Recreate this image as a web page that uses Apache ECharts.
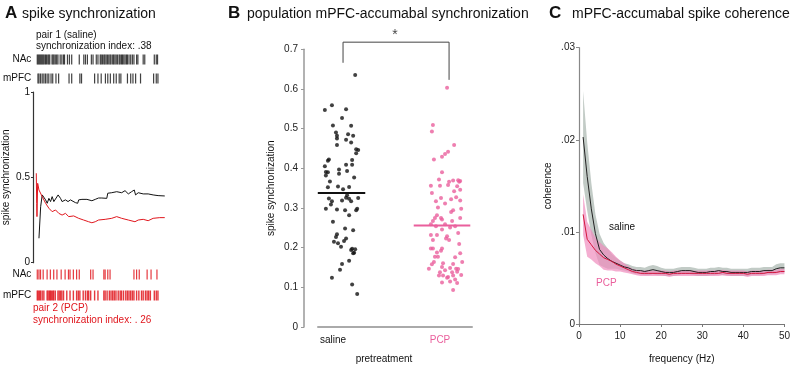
<!DOCTYPE html>
<html><head><meta charset="utf-8">
<script src="https://cdn.jsdelivr.net/npm/echarts@6/dist/echarts.min.js"></script>
<style>html,body{margin:0;padding:0;background:#fff}#c{width:793px;height:369px}</style>
</head><body><div id="c"></div>
<script>
// ---------- Panel A: example pairs ----------
var pair1NAc = [3,4,5,6,7,8,9,10,11.3,12.3,13.7,14.7,15.7,18,19,20,21.3,22.7,24,26.3,28,29.7,30.7,33.7,35.7,38,45.7,50.3,52,54,58,59.7,63,64.7,67,68,69.3,70.7,71.7,73,74.3,75.7,77,78,79.7,80.7,82,83.3,84.7,86.3,87.3,88.7,89.7,91,92.3,93.7,94.7,96.3,98,99.7,101.3,104,105.3,110.7,112.3,122,124,125.3];
var pair1mPFC = [3.7,4.7,6.3,8,9.7,11.3,13,14.7,17,18.7,22,24.7,35.3,38,46.3,48,61.3,64.7,68,72.3,74.7,77.3,80.7,83.3,86.3,88,94.7,98,100.3,103,108,121.3,124,125.7];
var pair2NAc = [3,4.7,6.3,9,13,16.3,19.7,23,27.3,31.3,34.7,36.3,39.7,43,45.7,57.3,59.7,70.7,72,74.7,77,101.3,104,106.7,114.7,118.7,124.7];
var pair2mPFC = [3,4,5.3,6.3,8,9.7,13,14,15.3,16.3,17.3,18.7,19.7,21.3,24,25.3,26.7,28,29.7,33,36.3,39.7,43,44.7,46.3,49.7,52,54,55.3,57.3,61.3,64.7,70.7,72,74,76.3,78,79.7,81.3,83,85.3,87.3,88.7,90.7,93,94.7,96.3,98,99.7,101.3,104,106.3,109,110.7,113,114.7,116.3,118,122,124,125.7];
var pair1Time = [6,7.7,9.3,11,12.7,14.3,16,17.7,19.3,21,22.7,25.3,27.7,29.3,32.7,35.3,37.7,39.3,42.7,45,46,49.3,54.3,59.3,62.7,66,69.3,74.3,75.3,79.3,84.3,89.3,92.7,96,99.3,102,103.3,106,111,116,121,122.7,126,132.7];
var pair1Sync = [0.143,0.328,0.397,0.407,0.368,0.348,0.377,0.358,0.387,0.358,0.358,0.397,0.377,0.358,0.368,0.358,0.368,0.358,0.352,0.348,0.368,0.371,0.371,0.363,0.371,0.379,0.379,0.377,0.407,0.41,0.416,0.41,0.422,0.403,0.416,0.426,0.397,0.41,0.403,0.403,0.397,0.387,0.393,0.391];
var pair2Time = [3.3,3.7,4,4.7,6,7.7,9.3,12.7,16,19.3,22.7,26,29.3,32.7,36,41,46,51,56,59.3,62.7,66,72.7,79.3,84.3,89.3,96,102.7,106,111,116,121,127.7,132.7];
var pair2Sync = [0.524,0.348,0.27,0.465,0.426,0.426,0.387,0.348,0.319,0.299,0.309,0.289,0.279,0.289,0.27,0.274,0.26,0.25,0.24,0.234,0.24,0.25,0.254,0.26,0.27,0.26,0.25,0.24,0.25,0.254,0.246,0.26,0.264,0.264];

// ---------- Panel B: population ----------
var groups = ['saline', 'PCP'];
var salineValues = [0.635,0.547,0.559,0.549,0.527,0.508,0.507,0.49,0.482,0.475,0.486,0.482,0.472,0.459,0.465,0.448,0.446,0.438,0.422,0.419,0.421,0.405,0.409,0.409,0.397,0.391,0.39,0.393,0.382,0.386,0.377,0.367,0.352,0.354,0.347,0.353,0.324,0.317,0.309,0.298,0.296,0.319,0.326,0.332,0.323,0.317,0.294,0.282,0.294,0.298,0.325,0.265,0.234,0.227,0.215,0.211,0.248,0.244,0.223,0.217,0.202,0.197,0.196,0.194,0.187,0.186,0.159,0.144,0.167,0.124,0.107,0.083];
var salineJitter = [0.14,-0.16,-0.09,0.05,0.01,-0.08,0.10,-0.05,-0.04,-0.04,0.07,0.12,0.05,-0.04,0.10,0.15,0.17,0.15,-0.12,-0.13,0.11,-0.16,0.05,0.11,-0.02,-0.15,-0.13,0.06,-0.15,-0.02,0.13,-0.11,-0.13,-0.03,0.02,0.08,-0.12,-0.09,-0.10,-0.15,-0.04,0.01,0.05,0.06,0.08,0.10,0.04,0.08,0.15,0.16,0.17,-0.08,-0.04,-0.05,-0.07,-0.03,0.04,0.12,0.05,0.03,0.00,0.11,0.14,0.10,0.13,0.12,0.01,-0.01,0.08,-0.09,0.11,0.16];
var pcpValues = [0.603,0.509,0.493,0.459,0.442,0.436,0.429,0.422,0.39,0.372,0.369,0.37,0.368,0.366,0.366,0.356,0.356,0.358,0.355,0.338,0.342,0.346,0.325,0.322,0.327,0.319,0.317,0.311,0.301,0.298,0.294,0.29,0.282,0.275,0.275,0.275,0.267,0.271,0.267,0.259,0.259,0.254,0.251,0.254,0.246,0.232,0.232,0.237,0.229,0.219,0.223,0.219,0.209,0.198,0.198,0.198,0.188,0.192,0.186,0.177,0.177,0.176,0.158,0.164,0.164,0.161,0.159,0.147,0.151,0.149,0.147,0.146,0.138,0.143,0.138,0.139,0.13,0.13,0.126,0.13,0.131,0.124,0.12,0.112,0.115,0.111,0.093];
var pcpJitter = [0.05,-0.09,-0.10,0.12,0.06,0.03,0.00,-0.08,0.00,-0.03,0.11,0.16,0.18,0.17,0.07,-0.11,-0.02,0.06,0.15,-0.10,0.12,0.18,-0.01,0.09,0.14,0.18,-0.06,0.03,-0.04,0.19,0.11,0.09,-0.05,-0.07,-0.01,0.18,-0.09,0.00,0.10,-0.11,0.03,-0.06,0.08,0.13,0.00,-0.11,-0.05,0.16,0.05,-0.09,0.04,0.07,0.17,-0.11,-0.09,0.00,-0.05,-0.01,0.18,-0.04,-0.07,0.13,-0.10,-0.08,0.20,0.01,0.11,-0.13,0.00,0.08,0.14,0.16,-0.02,0.03,0.10,0.15,-0.03,0.01,0.06,0.11,0.19,0.05,0.13,0.00,0.08,0.15,0.11];
var groupMeans = [0.338, 0.256];

// ---------- Panel C: coherence ----------
var freq = [1,2,3,4,5,6,7,8,9,10,11,12,13,14,15,16,17,18,19,20,21,22,23,24,25,26,27,28,29,30,31,32,33,34,35,36,37,38,39,40,41,42,43,44,45,46,47,48,49,50];
var salineCoh = [.0203,.0160,.0125,.0098,.0081,.0075,.0071,.0068,.0066,.0064,.0062,.0061,.0059,.0058,.0058,.0057,.0058,.0059,.0058,.0057,.0056,.0056,.0056,.0057,.0058,.0058,.0058,.0057,.0056,.0056,.0056,.0057,.0057,.0058,.0057,.0057,.0056,.0056,.0056,.0056,.0056,.0057,.0057,.0057,.0058,.0058,.0058,.0060,.0061,.0061];
var salineSem = [.0050,.0037,.0028,.0021,.0017,.0013,.0011,.0008,.0006,.0005,.0004,.0004,.0004,.0004,.0004,.0004,.0005,.0005,.0005,.0004,.0004,.0004,.0004,.0004,.0004,.0004,.0004,.0004,.0004,.0004,.0004,.0004,.0004,.0004,.0004,.0004,.0004,.0004,.0004,.0004,.0004,.0004,.0004,.0004,.0004,.0004,.0004,.0005,.0005,.0005];
var pcpCoh = [.0119,.0092,.0086,.0080,.0076,.0072,.0070,.0068,.0065,.0063,.0061,.0059,.0057,.0056,.0055,.0055,.0055,.0055,.0055,.0055,.0055,.0054,.0055,.0055,.0055,.0055,.0055,.0055,.0055,.0055,.0055,.0055,.0055,.0055,.0056,.0055,.0055,.0055,.0055,.0055,.0054,.0055,.0055,.0055,.0055,.0056,.0056,.0056,.0057,.0057];
var pcpSem = [.0022,.0019,.0016,.0014,.0013,.0013,.0012,.0010,.0008,.0006,.0005,.0004,.0003,.0003,.0003,.0003,.0003,.0003,.0003,.0003,.0003,.0003,.0003,.0003,.0003,.0003,.0003,.0003,.0003,.0003,.0003,.0003,.0003,.0003,.0003,.0003,.0003,.0003,.0003,.0003,.0003,.0003,.0003,.0003,.0003,.0003,.0003,.0003,.0003,.0003];

var FONT = 'Arial, "Liberation Sans", sans-serif';
var PINK = '#ea5f9c', RED = '#e0161d';

function zip(a, b) { return a.map(function (v, i) { return [v, b[i]]; }); }
function raster(times, row) { return times.map(function (t) { return [t, row]; }); }

// band polygon (mean ± sem) drawn through the axis scales
function bandSeries(mean, sem, fill, opacity) {
  return {
    type: 'custom', xAxisIndex: 4, yAxisIndex: 4, silent: true,
    data: freq.map(function (f, i) { return [f, mean[i] - sem[i], mean[i] + sem[i]]; }),
    renderItem: function (params, api) {
      if (params.dataIndex !== 0) return null;
      var upper = [], lower = [];
      for (var i = 0; i < freq.length; i++) {
        upper.push(api.coord([freq[i], mean[i] + sem[i]]));
        lower.unshift(api.coord([freq[i], mean[i] - sem[i]]));
      }
      return { type: 'polygon', shape: { points: upper.concat(lower) }, style: { fill: fill, opacity: opacity } };
    }
  };
}

var chart = echarts.init(document.getElementById('c'), null, { renderer: 'canvas' });

var hiddenX = function (g) { return { gridIndex: g, type: 'value', min: 0, max: 140, show: false }; };
var rasterY = function (g) {
  return { gridIndex: g, type: 'category', data: ['NAc', 'mPFC'], inverse: true,
    axisLine: { show: false }, axisTick: { show: false }, splitLine: { show: false },
    axisLabel: { margin: 3, fontSize: 10, color: '#111', fontFamily: FONT } };
};

var option = {
  animation: false,
  textStyle: { fontFamily: FONT },
  grid: [
    { left: 32, top: 92, width: 140, height: 170.7 },
    { left: 32, top: 50, width: 140, height: 38 },
    { left: 32, top: 264, width: 140, height: 42 },
    { left: 318, top: 49.3, width: 154, height: 280 },
    { left: 579, top: 47.7, width: 207, height: 282 }
  ],
  xAxis: [
    hiddenX(0), hiddenX(1), hiddenX(2),
    { gridIndex: 3, type: 'value', min: 0.772, max: 2.297,
      axisLine: { lineStyle: { color: '#aaa', width: 2 } }, axisTick: { show: false }, splitLine: { show: false },
      axisLabel: { customValues: [1, 2], margin: 8, fontSize: 10,
        formatter: function (v) { return v < 1.5 ? '{s|' + groups[0] + '}' : '{p|' + groups[1] + '}'; },
        rich: { s: { color: '#111', fontSize: 10, padding: [0, 16, 0, 0] }, p: { color: PINK, fontSize: 10, padding: [0, 4, 0, 0] } } },
      name: 'pretreatment', nameLocation: 'middle', nameGap: 27,
      nameTextStyle: { fontSize: 10, color: '#111', padding: [0, 22, 0, 0] } },
    { gridIndex: 4, type: 'value', min: 0, max: 50, interval: 10,
      axisLine: { lineStyle: { color: '#777', width: 1 } }, axisTick: { length: 3, lineStyle: { color: '#777' } },
      splitLine: { show: false },
      axisLabel: { fontSize: 10, color: '#222', margin: 7 },
      name: 'frequency (Hz)', nameLocation: 'middle', nameGap: 30, nameTextStyle: { fontSize: 10, color: '#111' } }
  ],
  yAxis: [
    { gridIndex: 0, type: 'value', min: 0, max: 1, interval: 0.5,
      axisLine: { show: true, lineStyle: { color: '#333', width: 1.2 } }, axisTick: { show: true, length: 2, lineStyle: { color: '#333' } },
      splitLine: { show: false },
      axisLabel: { fontSize: 10, color: '#111', margin: 3, formatter: function (v) { return String(v); } },
      name: 'spike synchronization', nameLocation: 'middle', nameGap: 22, nameTextStyle: { fontSize: 10, color: '#111' } },
    rasterY(1), rasterY(2),
    { gridIndex: 3, type: 'value', min: 0, max: 0.7, interval: 0.1, offset: 14,
      axisLine: { show: true, lineStyle: { color: '#999', width: 1.5 } }, axisTick: { show: true, length: 3, lineStyle: { color: '#999' } },
      splitLine: { show: false },
      axisLabel: { fontSize: 10, color: '#222', margin: 6, formatter: function (v) { return v === 0 ? '0' : v.toFixed(1); } },
      name: 'spike synchronization', nameLocation: 'middle', nameGap: 28, nameTextStyle: { fontSize: 10, color: '#111' } },
    { gridIndex: 4, type: 'value', min: 0, max: 0.03, interval: 0.01,
      axisLine: { show: true, lineStyle: { color: '#888', width: 1.2 } }, axisTick: { show: true, length: 3, lineStyle: { color: '#888' } },
      splitLine: { show: false },
      axisLabel: { fontSize: 10, color: '#222', margin: 4, formatter: function (v) { return v === 0 ? '0' : v.toFixed(2).replace('0.', '.'); } },
      name: 'coherence', nameLocation: 'middle', nameGap: 26, nameTextStyle: { fontSize: 10, color: '#111' } }
  ],
  series: [
    // Panel A rasters
    { type: 'scatter', xAxisIndex: 1, yAxisIndex: 1, symbol: 'rect', symbolSize: [1.2, 10], itemStyle: { color: '#111' }, data: raster(pair1NAc, 'NAc') },
    { type: 'scatter', xAxisIndex: 1, yAxisIndex: 1, symbol: 'rect', symbolSize: [1.2, 10], itemStyle: { color: '#111' }, data: raster(pair1mPFC, 'mPFC') },
    { type: 'scatter', xAxisIndex: 2, yAxisIndex: 2, symbol: 'rect', symbolSize: [1.2, 10], itemStyle: { color: RED, opacity: 0.85 }, data: raster(pair2NAc, 'NAc') },
    { type: 'scatter', xAxisIndex: 2, yAxisIndex: 2, symbol: 'rect', symbolSize: [1.4, 10], itemStyle: { color: RED, opacity: 0.85 }, data: raster(pair2mPFC, 'mPFC') },
    // Panel A traces
    { type: 'line', xAxisIndex: 0, yAxisIndex: 0, showSymbol: false, lineStyle: { color: '#111', width: 1 }, data: zip(pair1Time, pair1Sync) },
    { type: 'line', xAxisIndex: 0, yAxisIndex: 0, showSymbol: false, lineStyle: { color: RED, width: 1 }, data: zip(pair2Time, pair2Sync) },
    // Panel B
    { type: 'scatter', xAxisIndex: 3, yAxisIndex: 3, symbolSize: 4, itemStyle: { color: '#111' },
      data: salineValues.map(function (v, i) { return [1 + salineJitter[i], v]; }) },
    { type: 'scatter', xAxisIndex: 3, yAxisIndex: 3, symbolSize: 4, itemStyle: { color: PINK },
      data: pcpValues.map(function (v, i) { return [2 + pcpJitter[i], v]; }) },
    { type: 'line', xAxisIndex: 3, yAxisIndex: 3, showSymbol: false, lineStyle: { color: '#111', width: 2 }, data: [[0.77, groupMeans[0]], [1.24, groupMeans[0]]] },
    { type: 'line', xAxisIndex: 3, yAxisIndex: 3, showSymbol: false, lineStyle: { color: PINK, width: 2 }, data: [[1.72, groupMeans[1]], [2.28, groupMeans[1]]] },
    { type: 'line', xAxisIndex: 3, yAxisIndex: 3, showSymbol: false, clip: false, lineStyle: { color: '#444', width: 1 },
      data: [[1.02, 0.666], [1.02, 0.718], [2.07, 0.718], [2.07, 0.623]] },
    { type: 'scatter', xAxisIndex: 3, yAxisIndex: 3, symbolSize: 0, clip: false,
      label: { show: true, position: 'inside', formatter: '*', fontSize: 14, color: '#111' }, data: [[1.535, 0.735]] },
    // Panel C bands + means
    bandSeries(salineCoh, salineSem, '#c2cbc6', 1),
    bandSeries(pcpCoh, pcpSem, '#f08cbd', 0.7),
    { type: 'line', xAxisIndex: 4, yAxisIndex: 4, showSymbol: false, lineStyle: { color: '#222', width: 1 }, data: zip(freq, salineCoh) },
    { type: 'line', xAxisIndex: 4, yAxisIndex: 4, showSymbol: false, lineStyle: { color: '#d3143c', width: 1 }, data: zip(freq, pcpCoh) }
  ],
  graphic: [
    { type: 'text', left: 5, top: 5, style: { text: 'A', font: 'bold 17px ' + FONT, fill: '#111' } },
    { type: 'text', left: 22, top: 7, style: { text: 'spike synchronization', font: '14px ' + FONT, fill: '#111' } },
    { type: 'text', left: 228, top: 5, style: { text: 'B', font: 'bold 17px ' + FONT, fill: '#111' } },
    { type: 'text', left: 247, top: 7, style: { text: 'population mPFC-accumabal synchronization', font: '14px ' + FONT, fill: '#111' } },
    { type: 'text', left: 549, top: 5, style: { text: 'C', font: 'bold 17px ' + FONT, fill: '#111' } },
    { type: 'text', left: 572, top: 7, style: { text: 'mPFC-accumabal spike coherence', font: '14px ' + FONT, fill: '#111' } },
    { type: 'text', left: 36, top: 30, style: { text: 'pair 1 (saline)', font: '10px ' + FONT, fill: '#111' } },
    { type: 'text', left: 36, top: 41, style: { text: 'synchronization index: .38', font: '10px ' + FONT, fill: '#111' } },
    { type: 'text', left: 33, top: 303, style: { text: 'pair 2 (PCP)', font: '10px ' + FONT, fill: RED } },
    { type: 'text', left: 33, top: 315, style: { text: 'synchronization index: . 26', font: '10px ' + FONT, fill: RED } },
    { type: 'text', left: 609, top: 222, style: { text: 'saline', font: '10px ' + FONT, fill: '#111' } },
    { type: 'text', left: 596, top: 278, style: { text: 'PCP', font: '10px ' + FONT, fill: PINK } }
  ]
};
chart.setOption(option);
</script></body></html>
